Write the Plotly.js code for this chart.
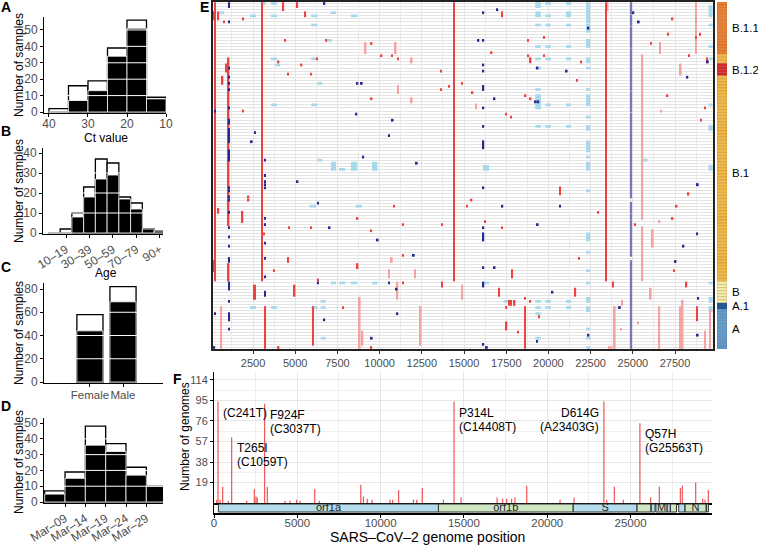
<!DOCTYPE html>
<html><head><meta charset="utf-8">
<script src="https://cdn.plot.ly/plotly-3.0.1.min.js"></script>
<style>html,body{margin:0;padding:0;background:#fff}#chart{width:758px;height:545px}</style>
</head><body><div id="chart"></div>
<script>
// ---------------- Panel A : Ct value ----------------
const ctBinCenters = [37.5, 32.5, 27.5, 22.5, 17.5, 12.5];
const ctTotal      = [2, 16, 19, 39, 56, 9];
const ctSequenced  = [0, 7, 13, 34, 51, 8];
const ctTicks      = [40, 30, 20, 10];
// ---------------- Panel B : Age ----------------
const ageGroups    = ['0–9','10–19','20–29','30–39','40–49','50–59','60–69','70–79','80–89','90+'];
const ageTotal     = [0, 2, 10, 23, 37, 35, 18, 15, 2, 1];
const ageSequenced = [0, 0, 8, 18, 27, 29, 17, 12, 2, 1];
const ageTickIdx   = [1, 3, 5, 7, 9];
// ---------------- Panel C : Sex ----------------
const sexes        = ['Female', 'Male'];
const sexTotal     = [58, 82];
const sexSequenced = [44, 69];
// ---------------- Panel D : Date ----------------
const dateBinStart   = [4, 9, 14, 19, 24, 29];   // day of March
const dateTotal      = [7, 19, 48, 37, 22, 10];
const dateSequenced  = [5, 15, 36, 32, 17, 10];
const dateTickDays   = [9, 14, 19, 24, 29];
const dateTickLabels = ['Mar–09','Mar–14','Mar–19','Mar–24','Mar–29'];
// ---------------- Panel E : lineages (top to bottom) ----------------
const lineageNames     = ['B.1.1','B.1','B.1.2','B.1','B','A.1','A'];
const lineageRowCounts = [17, 3, 4, 67, 7, 2, 13];
const lineageColorMap  = {'B.1.1':'#ee7f31','B.1':'#f5b946','B.1.2':'#d6262a','B':'#f5eca6','A.1':'#1d5a9c','A':'#5d9bd0'};
// E marks: [genome position, first row, last row]
const eSnvStrong = [
 [241,0,90],[3037,0,90],[14408,0,90],[23403,0,90],[1059,18,72],[1059,85,90],
 [4300,0,2],[5130,0,1],[150,3,5],[450,3,5],[1930,5,5],[5600,3,4],[780,6,6],[4420,12,12],[6810,12,12],
 [9530,13,13],[10120,17,17],[10720,17,17],[6310,18,18],[11090,18,18],[4020,19,19],[5380,20,20],[900,20,22],
 [4590,23,23],[5920,23,23],[13620,22,22],[700,24,26],[14110,27,27],[13620,28,28],[14880,26,26],[15510,29,29],
 [9530,31,31],[1930,35,35],[2240,64,64],[450,67,68],[1880,68,71],[2240,63,63],[3160,75,75],[3740,87,87],
 [4020,112,112],[4590,83,84],[4640,73,73],[5920,73,73],[4970,92,95],[6350,90,90],[7840,99,99],[8700,70,70],
 [8700,85,86],[9510,74,74],[9510,112,112],[10850,66,66],[11400,72,72],[11400,82,82],[11400,91,91],
 [13700,72,72],[13700,91,92],[15160,66,66],[15450,64,64],[6070,99,111],[3230,99,112],[2550,92,96],[2620,92,96],[200,84,87],
 [17270,3,4],[16640,16,16],[17490,36,36],[17770,37,37],[18810,12,12],[18810,17,17],[18950,18,19],[18650,30,30],
 [18950,31,31],[19750,11,11],[19750,17,17],[20690,60,62],[21680,25,25],[21930,19,19],[28980,10,10],[28740,11,11],
 [27100,10,10],[27360,5,5],[26080,13,13],[28330,17,17],[29380,18,19],[27060,30,30],[29280,34,34],[29050,38,38],
 [28290,62,62],[28300,62,62],[22960,68,68],[27600,66,66],[27360,70,70],[25150,72,72],[16240,71,71],[17270,73,73],
 [21800,83,83],[27430,87,87],[17850,87,89],[23820,91,92],[28180,91,92],[17060,93,95],[21600,93,95],[18600,96,96],
 [18930,97,97],[17660,97,98],[17800,97,98],[18000,97,98],[17520,99,99],[19450,102,102],[28800,99,103],
 [17520,104,106],[18210,107,107],[18610,99,112]
];
const eSnvLight = [
 [9170,13,16],[10950,13,16],[11900,18,19],[11090,27,29],[11900,31,32],[15710,33,34],[620,99,112],[8820,96,112],
 [8980,107,111],[10560,87,89],[10720,83,84],[11050,91,96],[12100,87,89],[12430,99,111],[14900,92,96],
 [25563,17,70],[25563,73,90],[23510,0,2],[28740,0,16],[26610,13,16],[27840,20,23],[26670,35,35],[26580,71,71],
 [26180,74,79],[26060,93,96],[24370,97,98],[23930,99,112],[26570,99,112],[27810,99,112],[27950,97,112],
 [29290,107,112],[29580,100,112],[24300,106,106],[25300,104,104],[23620,112,112],[23750,112,112]
];
const eNavy = [
 [1080,0,1],[6730,0,0],[1080,6,6],[15850,12,12],[1080,21,21],[1080,24,24],[1080,26,26],[1080,28,28],
 [8680,26,26],[8940,26,26],[1080,34,34],[250,35,35],[8620,36,36],[1080,38,39],[10770,38,38],[1080,41,45],
 [2620,42,42],[10560,43,43],[2420,45,45],[1080,48,51],[3210,51,51],[9030,50,50],[12200,52,52],[3210,56,56],
 [3210,58,58],[3210,60,60],[5130,58,58],[1080,61,61],[1080,64,64],[1080,60,60],[1080,63,63],[1080,68,68],
 [1080,73,73],[1080,76,76],[1080,79,79],[1080,83,84],[1080,91,93],[1080,97,97],[1080,101,103],[1080,106,106],
 [3210,59,59],[3210,70,70],[3210,72,72],[3210,78,78],[3210,83,83],[3210,89,89],[3210,94,95],[6350,91,91],
 [6350,65,65],[6720,103,103],[7030,73,73],[9530,109,109],[9880,77,77],[10560,91,91],[11000,93,93],[11050,101,101],
 [12020,82,82],[200,112,112],[250,101,101],
 [16140,3,3],[16140,12,12],[16140,20,20],[16140,22,22],[16140,27,28],[16140,34,34],[16140,40,40],[16140,45,47],
 [16140,60,60],[16970,2,2],[16800,31,31],[21080,22,22],[19350,21,21],[19250,32,32],[19400,32,32],[22370,8,8],
 [25350,6,6],[25030,3,3],[29440,19,19],[28820,59,59],[28230,24,24],[28840,59,59],[17270,66,66],[20690,66,66],
 [16140,73,73],[16140,75,77],[16140,86,86],[16140,91,92],[16140,111,111],[19360,72,72],[28810,75,75],
 [28000,79,79],[27530,84,84],[16810,86,86],[20240,94,94],[28870,96,96],[24230,99,99],[19330,110,110],
 [16350,112,112],[22370,108,108],[28840,108,108]
];
const eNavyColumn = [[24890,0,3],[24890,4,7],[24890,8,14],[24890,15,28],[24890,29,35],[24890,36,63],[24890,65,68],[24890,69,70],[24890,71,82],[24890,84,112]];
// E deletions / gaps: [start, end, first row, last row]
const eDeletions = [
 [19220,19550,0,1],[19220,19550,3,4],[19220,19550,7,7],[19220,19550,14,14],[19220,19550,18,18],[19220,19550,21,21],
 [19220,19550,28,28],[19220,19550,30,34],[19220,19550,40,40],[19220,19550,97,97],[19220,19550,99,99],[19220,19550,101,101],[19220,19550,109,109],
 [19820,20150,0,0],[19820,20150,4,4],[19820,20150,7,7],[19820,20150,14,14],[19820,20150,18,18],[19820,20150,33,33],[19820,20150,40,40],[19820,20150,97,97],[19820,20150,99,99],
 [21040,21340,0,0],[21040,21340,3,4],[21040,21340,7,7],[21040,21340,14,14],[21040,21340,18,18],[21040,21340,33,33],[21040,21340,40,40],[21040,21340,97,97],[21040,21340,99,99],
 [22230,22470,0,6],[22230,22470,7,9],[22230,22470,12,14],[22230,22470,18,19],[22230,22470,21,21],[22230,22470,28,28],[22230,22470,30,33],
 [22230,22470,37,37],[22230,22470,40,41],[22230,22470,45,48],[22230,22470,50,50],[22230,22470,52,54],[22230,22470,61,61],[22230,22470,75,77],
 [22230,22470,81,81],[22230,22470,87,87],[22230,22470,91,91],[22230,22470,96,97],[22230,22470,99,100],[22230,22470,106,106],[22230,22470,109,109],[22230,22470,112,112],
 [29490,29730,1,4],[29490,29730,7,7],[29490,29730,14,14],[29490,29730,18,18],[29490,29730,33,33],[29490,29730,40,41],[29490,29730,53,54],[29490,29730,91,91],[29490,29730,96,97],[29490,29730,99,100],
 [2970,3270,0,0],[3570,3920,0,0],[500,800,3,3],[2320,2680,4,4],[3570,3920,4,4],[5950,6320,4,4],[7100,7420,3,3],[8300,8680,4,4],
 [5950,6320,7,7],[6870,7160,12,12],[3570,3920,18,18],[5950,6320,18,18],[3800,4100,20,20],[6310,6600,26,26],[3570,3920,33,33],
 [5950,6320,33,33],[6310,6600,51,51],[7120,7420,52,54],[7600,7970,54,54],[8300,8680,52,54],[9550,9870,52,54],[5850,6230,66,66],
 [8580,8960,66,66],[2320,2680,99,99],[3570,3920,99,99],[5950,6320,99,99],[6510,6800,97,97],[6510,6800,99,99],[6510,6800,109,109],
 [7120,7420,91,91],[7600,7970,91,91],[8300,8680,91,91],[9550,9870,91,91],[16120,16480,53,54],[16120,16480,91,91],[25550,25880,51,51],[17340,17670,97,97]
];
// ---------------- Panel F : mutation counts ----------------
const fPositions = [241,1059,3037,14408,23403,25563,160,360,520,860,1960,2420,2520,2600,3200,4260,4560,4960,5160,6040,6320,8810,8970,9200,9490,10560,10720,11080,11970,12170,12500,13770,14830,16990,17320,17560,17860,18060,18770,20770,21610,23570,24030,24570,26210,26730,27990,28110,28910,29330,29470,29670];
const fCounts    = [94,61,92,94,94,74,3,3,15,2,2,13,6,5,15,2,2,3,2,13,2,17,6,4,3,3,3,12,3,3,14,3,5,5,4,4,4,5,16,3,5,3,15,3,5,15,14,16,19,4,3,12];
const fAnnotPos    = [241, 1059, 3037, 14408, 23403, 25563];
const fAnnotTop    = ['(C241T)', 'T265I', 'F924F', 'P314L', 'D614G', 'Q57H'];
const fAnnotBottom = ['', '(C1059T)', '(C3037T)', '(C14408T)', '(A23403G)', '(G25563T)'];
const fAnnotSide   = ['left','left','left','left','right','left'];
const fTicks       = [19, 38, 57, 76, 95, 114];
// genes
const geneNames  = ['orf1a','orf1b','S','ORF3a','E','M','ORF6','ORF7a','ORF8','N','ORF10'];
const geneLabels = ['orf1a','orf1b','S','','','M','','','','N',''];
const geneStart  = [266, 13468, 21563, 25393, 26245, 26523, 27202, 27394, 27894, 28274, 29558];
const geneEnd    = [13483, 21555, 25384, 26220, 26472, 27191, 27387, 27759, 28259, 29533, 29674];
const geneColors = ['#b5dcea','#cfe6c2','#b5dcea','#cfe6c2','#b5dcea','#cfe6c2','#b5dcea','#cfe6c2','#b5dcea','#cfe6c2','#b5dcea'];

// ================= build =================
const W = 758, H = 545;
const px = v => v / W;
const dy = (top, bot) => [1 - bot / H, 1 - top / H];
const FONT = 'Liberation Sans, Arial, Helvetica, sans-serif';
const GRAY = '#4d4d4d';
const traces = [];

function histPair(xs, tot, seq, width, xa, ya) {
  traces.push({type:'bar', x: xs, y: tot, width: xs.map(()=>width), xaxis: xa, yaxis: ya,
    marker:{color:'#ffffff', line:{color:'#000', width:1.3}}, hoverinfo:'skip'});
  traces.push({type:'bar', x: xs, y: seq, width: xs.map(()=>width), xaxis: xa, yaxis: ya,
    marker:{color:'#000000', line:{color:'#fff', width:0.8}}, hoverinfo:'skip'});
}
histPair(ctBinCenters, ctTotal, ctSequenced, 5, 'x', 'y');
histPair(ageGroups.map((_, i) => i), ageTotal, ageSequenced, 1, 'x2', 'y2');
histPair(sexes.map((_, i) => i), sexTotal, sexSequenced, 0.79, 'x3', 'y3');
histPair(dateBinStart.map(d => d + 2.5), dateTotal, dateSequenced, 5, 'x4', 'y4');

// E marks
function segTrace(list, width, color) {
  return {type:'bar', x: list.map(m => m[0]), base: list.map(m => m[1] - 0.45),
    y: list.map(m => m[2] - m[1] + 0.9), width: list.map(() => width),
    marker:{color: color, line:{width:0}}, xaxis:'x5', yaxis:'y5', hoverinfo:'skip'};
}
traces.push({type:'bar', x: eDeletions.map(d => (d[0] + d[1]) / 2), width: eDeletions.map(d => d[1] - d[0]),
  base: eDeletions.map(d => d[2] - 0.45), y: eDeletions.map(d => d[3] - d[2] + 0.9),
  marker:{color:'#a7d9eb', line:{width:0}}, xaxis:'x5', yaxis:'y5', hoverinfo:'skip'});
traces.push(segTrace(eNavyColumn, 130, '#7676bd'));
traces.push(segTrace(eSnvLight, 100, '#f4a2a2'));
traces.push(segTrace(eSnvStrong, 85, '#ee4242'));
traces.push(segTrace(eNavy, 110, '#27278d'));

// lineage bar
const rowLineage = [];
lineageNames.forEach((n, i) => { for (let k = 0; k < lineageRowCounts[i]; k++) rowLineage.push(n); });
const nRows = rowLineage.length;
traces.push({type:'bar', x: rowLineage.map(() => 0), y: rowLineage.map(() => 1), base: rowLineage.map((_, i) => i - 0.5),
  width: rowLineage.map(() => 1), marker:{color: rowLineage.map(n => lineageColorMap[n]), line:{color:'rgba(90,60,30,0.35)', width:0.5}},
  xaxis:'x6', yaxis:'y6', hoverinfo:'skip'});

// F bars
traces.push({type:'bar', x: fPositions, y: fCounts, width: fPositions.map(() => 75),
  marker:{color:'rgba(238,62,62,0.85)', line:{width:0}}, xaxis:'x7', yaxis:'y7', hoverinfo:'skip'});
// genes
traces.push({type:'bar', orientation:'h', y: geneNames.map(() => 0), base: geneStart, x: geneEnd.map((e, i) => e - geneStart[i]),
  width: geneNames.map(() => 0.8), marker:{color: geneColors, line:{color:'#333', width:1}}, xaxis:'x8', yaxis:'y8', hoverinfo:'skip'});
traces.push({type:'scatter', mode:'text', x: geneStart.map((s, i) => (s + geneEnd[i]) / 2), y: geneNames.map(() => 0),
  text: geneLabels, textfont:{family: FONT, size: 11, color:'#222'}, xaxis:'x8', yaxis:'y8', hoverinfo:'skip'});

// ---------- axes ----------
const baseAx = {showline:true, linecolor:'#000', linewidth:1, ticks:'outside', ticklen:3, tickcolor:'#000', tickwidth:1,
  tickfont:{family: FONT, size:12, color: GRAY}, showgrid:false, zeroline:false, fixedrange:true};
const layout = {
  width: W, height: H, margin:{l:0, r:0, t:0, b:0}, paper_bgcolor:'#fff', plot_bgcolor:'rgba(0,0,0,0)',
  showlegend:false, barmode:'overlay', font:{family: FONT, color:'#000'},
  xaxis:  Object.assign({}, baseAx, {domain:[px(44), px(166)], range:[41.28, 10], tickmode:'array', tickvals: ctTicks,
          ticklabelstandoff:-3, anchor:'y'}),
  yaxis:  Object.assign({}, baseAx, {domain: dy(17, 113), range:[-0.61, 57.9], dtick:10, tick0:0, anchor:'x'}),
  xaxis2: Object.assign({}, baseAx, {domain:[px(43), px(163)], range:[-0.96, 9.26], tickmode:'array', tickvals: ageTickIdx,
          ticktext: ageTickIdx.map(i => ageGroups[i]), tickangle:-32, anchor:'y2'}),
  yaxis2: Object.assign({}, baseAx, {domain: dy(148, 234), range:[-0.5, 42.5], dtick:10, tick0:0, anchor:'x2'}),
  xaxis3: Object.assign({}, baseAx, {domain:[px(44), px(163)], range:[-1.39, 2.21], tickmode:'array', tickvals: sexes.map((_, i) => i),
          ticktext: sexes, tickangle:0, tickfont:{family: FONT, size:11.5, color: GRAY}, ticklabelstandoff:-2, anchor:'y3'}),
  yaxis3: Object.assign({}, baseAx, {domain: dy(283, 383), range:[-0.86, 85.2], dtick:20, tick0:0, anchor:'x3'}),
  xaxis4: Object.assign({}, baseAx, {domain:[px(44), px(163)], range:[3.83, 33.1], tickmode:'array', tickvals: dateTickDays,
          ticktext: dateTickLabels, tickangle:-32, anchor:'y4'}),
  yaxis4: Object.assign({}, baseAx, {domain: dy(418, 503), range:[-0.63, 53.2], dtick:10, tick0:0, anchor:'x4'}),
  xaxis5: {domain:[px(213), px(713)], range:[130, 29750], tickmode:'linear', tick0:0, dtick:2500, tickformat:'d', ticks:'outside', ticklen:3,
          tickcolor:'#333', tickfont:{family: FONT, size:11, color: GRAY}, showline:true, mirror:true, linecolor:'#222', linewidth:1.5,
          showgrid:true, gridcolor:'#e6e6e6', gridwidth:1.2, minor:{dtick:1250, tick0:0, showgrid:true, gridcolor:'#ececec', gridwidth:1.2},
          zeroline:false, layer:'above traces', anchor:'y5', fixedrange:true},
  yaxis5: {domain: dy(2, 349), range:[nRows - 0.5, -0.5], tickmode:'linear', tick0:0, dtick:1, showticklabels:false, ticks:'',
          showgrid:true, gridcolor:'#e4e4e4', gridwidth:1.2, showline:true, mirror:true, linecolor:'#222', linewidth:1.5,
          zeroline:false, layer:'above traces', anchor:'x5', fixedrange:true},
  xaxis6: {domain:[px(717), px(727)], range:[-0.5, 0.5], visible:false, anchor:'y6', fixedrange:true},
  yaxis6: {domain: dy(2, 349), range:[nRows - 0.5, -0.5], visible:false, anchor:'x6', fixedrange:true},
  xaxis7: {domain:[px(214), px(712)], range:[0, 29890], tickmode:'linear', tick0:0, dtick:5000, showticklabels:false, ticks:'',
          showgrid:true, gridcolor:'#e6e6e6', gridwidth:1, minor:{dtick:2500, tick0:0, showgrid:true, gridcolor:'#efefef'},
          showline:true, linecolor:'#000', linewidth:1.5, zeroline:false, layer:'above traces', anchor:'y7', fixedrange:true},
  yaxis7: Object.assign({}, baseAx, {domain: dy(372, 503), range:[0, 121.4], tickmode:'array', tickvals: fTicks,
          tickfont:{family: FONT, size:11, color: GRAY}, showgrid:true, gridcolor:'#e6e6e6', gridwidth:1,
          minor:{tickvals: fTicks.map(t => t - 9.5), showgrid:true, gridcolor:'#efefef', ticks:''}, anchor:'x7'}),
  xaxis8: Object.assign({}, baseAx, {domain:[px(214), px(712)], range:[0, 29890], tickmode:'linear', tick0:0, dtick:5000, tickformat:'d',
          tickfont:{family: FONT, size:11.5, color: GRAY}, linewidth:1.5, ticklabelstandoff:-5, anchor:'y8'}),
  yaxis8: {domain: dy(503, 513), range:[-0.5, 0.5], showticklabels:false, ticks:'', showgrid:false, zeroline:false,
          showline:true, linecolor:'#000', linewidth:1, anchor:'x8', fixedrange:true},
  shapes: [], annotations: []
};

// white gridlines drawn over the histogram bars
[['y', [10,20,30,40,50]], ['y2', [10,20,30]], ['y3', [20,40,60]], ['y4', [10,20,30,40]]].forEach(([ya, vals], k) => {
  const xa = ['x','x2','x3','x4'][k];
  vals.forEach(v => layout.shapes.push({type:'line', xref: xa + ' domain', yref: ya, x0:0.02, x1:1, y0:v, y1:v,
    line:{color:'#fff', width:1}, layer:'above'}));
});

function ann(text, x, y, opts) {
  layout.annotations.push(Object.assign({text, x: px(x), y: 1 - y / H, xref:'paper', yref:'paper', showarrow:false,
    xanchor:'center', yanchor:'middle', font:{family: FONT, size:12, color:'#000'}}, opts || {}));
}
// panel letters
[['A',6,7],['B',6,131],['C',6,267],['D',6,406],['E',204,7],['F',177,379]].forEach(([t, x, y]) =>
  ann('<b>' + t + '</b>', x, y, {font:{family: FONT, size:14, color:'#000'}}));
// axis titles
ann('Number of samples', 19, 65, {textangle:-90});
ann('Number of samples', 19, 191, {textangle:-90});
ann('Number of samples', 19, 333, {textangle:-90});
ann('Number of samples', 19, 462, {textangle:-90});
ann('Ct value', 106, 138);
ann('Age', 106, 273);
ann('Number of genomes', 185, 437, {textangle:-90});
ann('SARS–CoV–2 genome position', 427, 537, {font:{family: FONT, size:14, color:'#000'}});

// lineage labels
const seenLin = [];
rowLineage.forEach(n => { if (!seenLin.includes(n)) seenLin.push(n); });
seenLin.forEach(n => {
  const idx = rowLineage.map((r, i) => r === n ? i : -1).filter(i => i >= 0);
  const mean = idx.reduce((a, b) => a + b, 0) / idx.length;
  layout.annotations.push({text: n, xref:'paper', x: px(730), yref:'y6', y: mean, xanchor:'left', yanchor:'middle',
    showarrow:false, font:{family: FONT, size:11.5, color:'#000'}});
});

// F mutation labels
fAnnotPos.forEach((p, i) => {
  const c = fCounts[fPositions.indexOf(p)];
  const side = fAnnotSide[i];
  const base = {xref:'x7', yref:'y7', x: p, y: c, showarrow:false, xanchor: side, yanchor:'middle',
    xshift: side === 'left' ? 3 : -3, font:{family: FONT, size:12, color:'#000'}};
  layout.annotations.push(Object.assign({}, base, {text: fAnnotTop[i], yshift:-11}));
  if (fAnnotBottom[i]) layout.annotations.push(Object.assign({}, base, {text: fAnnotBottom[i], yshift:-25}));
});

Plotly.newPlot('chart', traces, layout, {displayModeBar:false, staticPlot:false, responsive:false});
</script></body></html>
